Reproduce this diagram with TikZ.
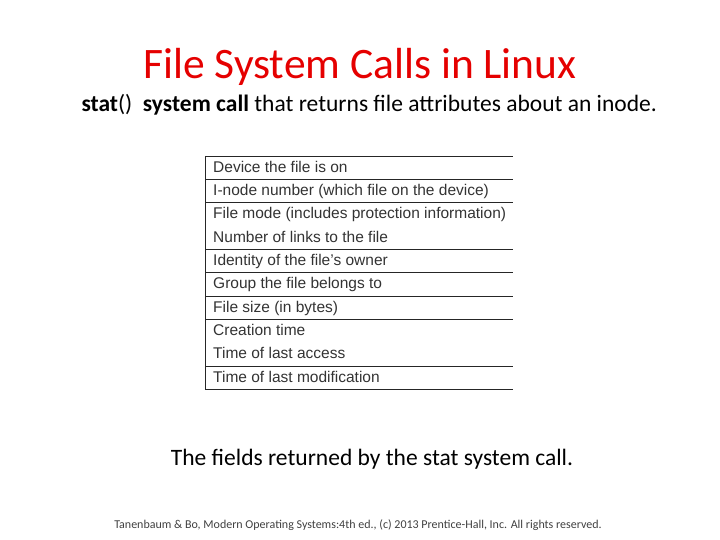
\documentclass[tikz,border=0pt]{standalone}
\usepackage{fontspec}
\setmainfont{Carlito}
\newfontfamily\tabfont{Liberation Sans}
\begin{document}
\begin{tikzpicture}[x=1pt,y=-1pt,
  cell/.style={anchor=base west,font=\tabfont\fontsize{15.5}{17}\selectfont,text=black!80,inner sep=0pt},
  rule/.style={line width=0.9pt,black!85}]
\useasboundingbox (0,0) rectangle (720,540);
\node[text=red!90!black,font=\fontsize{43.5}{48}\selectfont] (title) at (360,67) {File System Calls in Linux};
\node[anchor=west,font=\fontsize{23.5}{27}\selectfont] (sub) at (78,105) {\textbf{stat}()\ \ \textbf{system call} that returns file attributes about an inode.};
\foreach \y/\t [count=\i] in {167/Device the file is on,190/I-node number (which file on the device),213/File mode (includes protection information),237/Number of links to the file,260/Identity of the file’s owner,283/Group the file belongs to,307/File size (in bytes),330/Creation time,353/Time of last access,377/Time of last modification}
  \node[cell] (r\i) at (213,\y+5.5) {\t};
\foreach \y in {156,179,202,249,272,296,319,366,389}
  \draw[rule] (205,\y) -- (513,\y);
\draw[rule] (205,156) -- (205,389);
\node[font=\fontsize{23.5}{27}\selectfont] (cap) at (372,459) {The fields returned by the stat system call.};
\node[font=\fontsize{12}{14}\selectfont,text=black!75] (foot) at (358,525) {Tanenbaum \& Bo, Modern Operating Systems:4th ed., (c) 2013 Prentice-Hall, Inc. All rights reserved.};
\end{tikzpicture}
\end{document}
